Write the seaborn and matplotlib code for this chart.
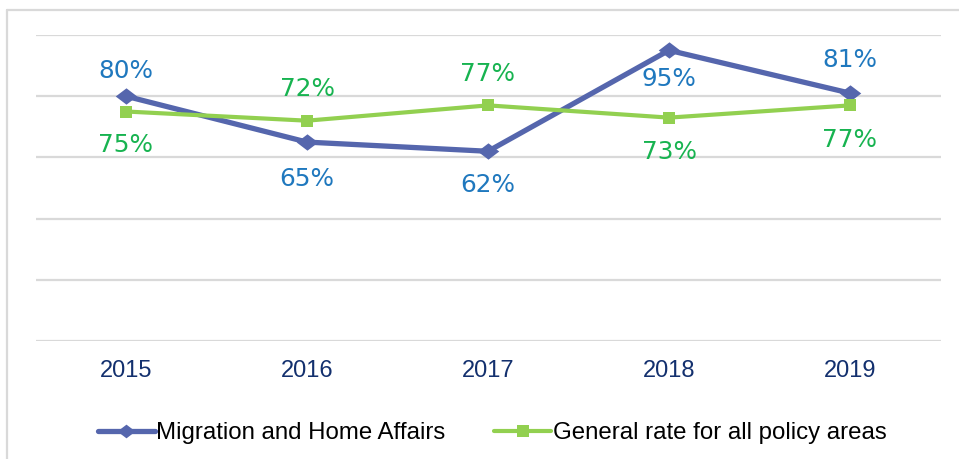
import matplotlib
matplotlib.use("Agg")
import matplotlib.pyplot as plt
from matplotlib.lines import Line2D
import pandas as pd
import seaborn as sns

# Yearly rates, in percent
years = ["2015", "2016", "2017", "2018", "2019"]
migration = [80, 65, 62, 95, 81]
general = [75, 72, 77, 73, 77]
series_names = ["Migration and Home Affairs", "General rate for all policy areas"]

# Label placement (pixel offsets above (+) / below (-) each point)
migration_offsets = [25, -37, -34, -29, 33]
general_offsets = [-33, 32, 31, -34, -35]

sns.set_theme(style="white")
plt.rcParams["font.family"] = ["Liberation Sans", "DejaVu Sans"]

BLUE_LINE = "#5566AD"
GREEN_LINE = "#92D050"
BLUE_TEXT = "#1F78BE"
GREEN_TEXT = "#17B350"
GRID = "#D9D9D9"
TICK = "#13306E"

df = pd.DataFrame({
    "year": years * 2,
    "rate": migration + general,
    "series": [series_names[0]] * len(years) + [series_names[1]] * len(years),
})

fig = plt.figure(figsize=(9.59, 4.59), dpi=100)
ax = fig.add_axes([35.5 / 959, 1 - 341 / 459, 905 / 959, 306 / 459])

diamond = [(-1, 0), (0, 0.76), (1, 0), (0, -0.76), (-1, 0)]
sns.lineplot(
    data=df, x="year", y="rate", hue="series", style="series",
    palette={series_names[0]: BLUE_LINE, series_names[1]: GREEN_LINE},
    markers={series_names[0]: diamond, series_names[1]: "s"},
    dashes=False, sort=False, legend=False, ax=ax,
)
lines = ax.get_lines()
lines[0].set_linewidth(3.8)
lines[0].set_markersize(15.5)
lines[1].set_linewidth(3.0)
lines[1].set_markersize(8.8)
for ln in lines:
    ln.set_markeredgewidth(0)
    ln.set_solid_joinstyle("miter")

ax.set_xlim(-0.5, len(years) - 0.5)
ax.set_ylim(0, 100)
ax.set_yticks([0, 20, 40, 60, 80, 100])
ax.set_yticklabels([])
ax.grid(axis="y", color=GRID, linewidth=1.6)
ax.set_axisbelow(True)
for sp in ax.spines.values():
    sp.set_visible(False)
ax.tick_params(axis="x", length=0, pad=14, labelsize=17, labelcolor=TICK)
ax.tick_params(axis="y", length=0)
ax.set_xlabel("")
ax.set_ylabel("")

px = 72 / 100
for i, (v, off) in enumerate(zip(migration, migration_offsets)):
    ax.annotate(f"{v}%", (i, v), xytext=(0, off * px), textcoords="offset points",
                ha="center", va="center", color=BLUE_TEXT, fontsize=17.8,
                family="DejaVu Sans")
for i, (v, off) in enumerate(zip(general, general_offsets)):
    ax.annotate(f"{v}%", (i, v), xytext=(0, off * px), textcoords="offset points",
                ha="center", va="center", color=GREEN_TEXT, fontsize=17.8,
                family="DejaVu Sans")

handles = [
    Line2D([], [], color=BLUE_LINE, lw=3.8, marker=diamond, markersize=13, markeredgewidth=0),
    Line2D([], [], color=GREEN_LINE, lw=3.0, marker="s", markersize=8, markeredgewidth=0),
]
fig.legend(handles, series_names, loc="center", bbox_to_anchor=(492 / 959, 1 - 433 / 459),
           ncol=2, frameon=False, fontsize=17.3, handlelength=2.4, handletextpad=0.05,
           columnspacing=2.0, labelcolor="black")

# Frame edges of the chart area
fig.add_artist(Line2D([7 / 959, 1], [1 - 9.5 / 459] * 2, transform=fig.transFigure,
                      color=GRID, lw=1.6))
fig.add_artist(Line2D([7 / 959] * 2, [0, 1 - 9.5 / 459], transform=fig.transFigure,
                      color=GRID, lw=1.6))

fig.savefig("out.png", dpi=100, facecolor="white")
